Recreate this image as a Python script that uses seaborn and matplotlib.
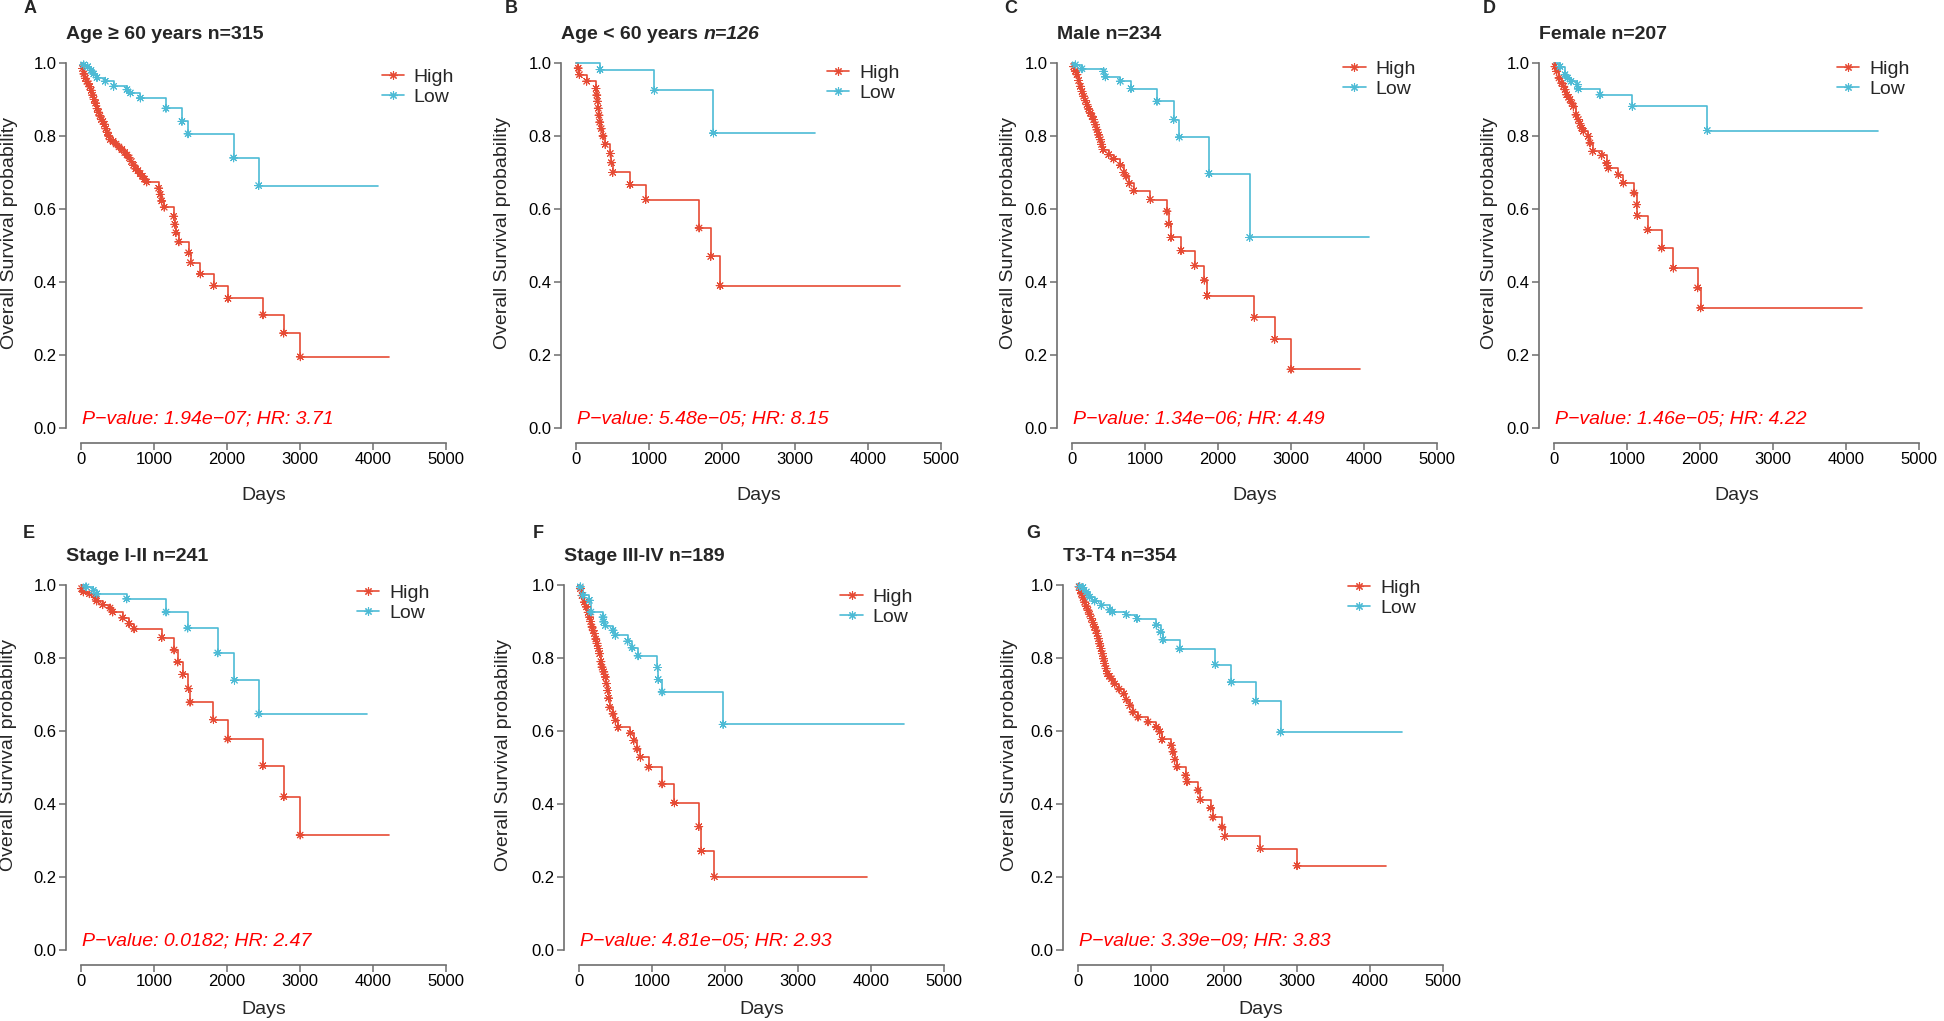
import pandas as pd
import matplotlib
matplotlib.use('Agg')
import matplotlib.pyplot as plt
from matplotlib.lines import Line2D
import seaborn as sns

# --- data: KM step points (days, survival after the step) and last follow-up day ---
a_high_t = [20, 40, 60, 80, 100, 120, 140, 160, 180, 200, 220, 240, 260, 280, 300, 320, 340, 360, 380, 400,
            440, 480, 520, 560, 600, 630, 660, 690, 720, 750, 780, 810, 840, 870, 900,
            1064, 1085, 1105, 1140, 1270, 1285, 1300, 1340, 1475, 1500, 1635, 1817, 2014, 2493, 2776, 3004]
a_high_s = [0.985, 0.97, 0.958, 0.95, 0.943, 0.935, 0.925, 0.912, 0.9, 0.89, 0.875, 0.865, 0.855, 0.845, 0.84,
            0.832, 0.82, 0.81, 0.8, 0.79, 0.785, 0.778, 0.77, 0.763, 0.755, 0.748, 0.74, 0.73, 0.72, 0.71,
            0.705, 0.697, 0.69, 0.682, 0.674, 0.657, 0.64, 0.622, 0.605, 0.58, 0.558, 0.535, 0.51, 0.48,
            0.453, 0.422, 0.39, 0.355, 0.31, 0.26, 0.195]
a_high_end = 4214
a_low_t = [37, 91, 137, 174, 219, 333, 447, 630, 676, 813, 1164, 1383, 1466, 2091, 2434]
a_low_s = [0.995, 0.99, 0.98, 0.97, 0.96, 0.95, 0.936, 0.927, 0.918, 0.904, 0.876, 0.84, 0.806, 0.74, 0.664]
a_low_end = 4064

b_high_t = [30, 46, 146, 274, 285, 295, 305, 315, 325, 345, 370, 400, 470, 485, 503, 740, 955, 1686, 1846, 1974]
b_high_s = [0.986, 0.968, 0.95, 0.93, 0.912, 0.895, 0.876, 0.857, 0.838, 0.82, 0.8, 0.777, 0.752, 0.727, 0.7,
            0.667, 0.626, 0.548, 0.47, 0.39]
b_high_end = 4442
b_low_t = [329, 1074, 1883]
b_low_s = [0.982, 0.925, 0.808]
b_low_end = 3277

c_high_t = [23, 45, 68, 91, 114, 137, 160, 183, 205, 228, 251, 274, 297, 320, 342, 365, 388, 405, 425, 502,
            571, 662, 708, 740, 785, 845, 1073, 1301, 1324, 1356, 1493, 1680, 1813, 1849, 2498, 2776, 3000]
c_high_s = [0.99, 0.978, 0.968, 0.952, 0.936, 0.922, 0.909, 0.897, 0.886, 0.874, 0.863, 0.854, 0.845, 0.831,
            0.817, 0.803, 0.79, 0.777, 0.763, 0.749, 0.737, 0.72, 0.7, 0.69, 0.67, 0.65, 0.626, 0.594, 0.559,
            0.522, 0.486, 0.445, 0.405, 0.363, 0.303, 0.243, 0.161]
c_high_end = 3950
c_low_t = [46, 137, 434, 457, 662, 808, 1164, 1393, 1470, 1877, 2434]
c_low_s = [0.995, 0.984, 0.977, 0.962, 0.95, 0.93, 0.895, 0.845, 0.797, 0.697, 0.522]
c_low_end = 4064

d_high_t = [14, 37, 68, 105, 130, 151, 174, 200, 219, 245, 265, 301, 333, 355, 379, 402, 470, 493, 530, 653,
            721, 744, 881, 950, 1096, 1132, 1141, 1283, 1475, 1635, 1968, 2009]
d_high_s = [0.99, 0.977, 0.959, 0.945, 0.936, 0.927, 0.913, 0.906, 0.9, 0.89, 0.881, 0.858, 0.845, 0.834,
            0.822, 0.813, 0.799, 0.781, 0.758, 0.747, 0.726, 0.712, 0.694, 0.671, 0.644, 0.612, 0.582, 0.543,
            0.493, 0.438, 0.384, 0.329]
d_high_end = 4214
d_low_t = [82, 151, 187, 233, 320, 333, 630, 1073, 2100]
d_low_s = [0.99, 0.968, 0.959, 0.95, 0.941, 0.929, 0.913, 0.881, 0.815]
d_low_end = 4434

e_high_t = [9, 32, 114, 192, 215, 297, 398, 434, 571, 658, 727, 1106, 1275, 1325, 1394, 1472, 1494, 1814,
            2011, 2491, 2779, 3002]
e_high_s = [0.99, 0.981, 0.976, 0.967, 0.956, 0.946, 0.937, 0.926, 0.91, 0.894, 0.88, 0.856, 0.822, 0.789,
            0.755, 0.716, 0.679, 0.631, 0.578, 0.505, 0.42, 0.315]
e_high_end = 4213
e_low_t = [69, 169, 215, 626, 1165, 1462, 1874, 2102, 2436]
e_low_s = [0.995, 0.985, 0.976, 0.962, 0.926, 0.882, 0.814, 0.739, 0.647]
e_low_end = 3916

f_high_t = [18, 41, 73, 101, 125, 146, 160, 178, 195, 210, 230, 247, 265, 283, 300, 315, 340, 361, 375, 393,
            405, 420, 466, 498, 535, 704, 750, 795, 841, 955, 1138, 1307, 1641, 1677, 1855]
f_high_s = [0.99, 0.971, 0.953, 0.94, 0.925, 0.912, 0.9, 0.885, 0.875, 0.867, 0.852, 0.84, 0.826, 0.812, 0.79,
            0.775, 0.762, 0.748, 0.73, 0.711, 0.69, 0.665, 0.647, 0.629, 0.61, 0.594, 0.574, 0.551, 0.528,
            0.501, 0.455, 0.403, 0.338, 0.271, 0.201]
f_high_end = 3948
f_low_t = [18, 55, 142, 164, 329, 338, 361, 466, 498, 667, 727, 809, 1075, 1085, 1138, 1974]
f_low_s = [0.995, 0.972, 0.958, 0.926, 0.912, 0.899, 0.889, 0.876, 0.862, 0.846, 0.828, 0.806, 0.774, 0.741,
           0.707, 0.618]
f_low_end = 4451

g_high_t = [14, 30, 46, 68, 91, 114, 137, 160, 183, 205, 228, 245, 260, 280, 297, 315, 333, 350, 365, 385, 402,
            430, 457, 502, 562, 626, 662, 708, 753, 822, 959, 1073, 1119, 1151, 1278, 1301, 1324, 1356, 1475,
            1493, 1644, 1676, 1817, 1849, 1973, 2009, 2498, 3000]
g_high_s = [0.995, 0.985, 0.976, 0.965, 0.953, 0.942, 0.931, 0.92, 0.908, 0.897, 0.885, 0.876, 0.867, 0.853,
            0.839, 0.826, 0.812, 0.798, 0.785, 0.771, 0.757, 0.75, 0.743, 0.729, 0.715, 0.702, 0.686, 0.67,
            0.652, 0.638, 0.625, 0.611, 0.598, 0.577, 0.561, 0.543, 0.522, 0.502, 0.479, 0.461, 0.438, 0.412,
            0.389, 0.364, 0.337, 0.311, 0.278, 0.231]
g_high_end = 4214
g_low_t = [23, 68, 114, 160, 228, 320, 434, 470, 662, 808, 1073, 1132, 1164, 1393, 1881, 2100, 2434, 2776]
g_low_s = [0.996, 0.993, 0.981, 0.967, 0.956, 0.944, 0.932, 0.926, 0.919, 0.908, 0.89, 0.871, 0.85, 0.825,
           0.782, 0.734, 0.682, 0.597]
g_low_end = 4443

letters = ['A', 'B', 'C', 'D', 'E', 'F', 'G']
titles = ['Age \u2265 60 years n=315', 'Age < 60 years', 'Male n=234', 'Female n=207',
          'Stage I-II n=241', 'Stage III-IV n=189', 'T3-T4 n=354']
stats = ['P\u2212value: 1.94e\u221207; HR: 3.71', 'P\u2212value: 5.48e\u221205; HR: 8.15',
         'P\u2212value: 1.34e\u221206; HR: 4.49', 'P\u2212value: 1.46e\u221205; HR: 4.22',
         'P\u2212value: 0.0182; HR: 2.47', 'P\u2212value: 4.81e\u221205; HR: 2.93',
         'P\u2212value: 3.39e\u221209; HR: 3.83']
groups = ['High', 'Low']
pal = {'High': '#E64B35', 'Low': '#4DBBD5'}

curves = [
    ((a_high_t, a_high_s, a_high_end), (a_low_t, a_low_s, a_low_end)),
    ((b_high_t, b_high_s, b_high_end), (b_low_t, b_low_s, b_low_end)),
    ((c_high_t, c_high_s, c_high_end), (c_low_t, c_low_s, c_low_end)),
    ((d_high_t, d_high_s, d_high_end), (d_low_t, d_low_s, d_low_end)),
    ((e_high_t, e_high_s, e_high_end), (e_low_t, e_low_s, e_low_end)),
    ((f_high_t, f_high_s, f_high_end), (f_low_t, f_low_s, f_low_end)),
    ((g_high_t, g_high_s, g_high_end), (g_low_t, g_low_s, g_low_end)),
]

# --- layout (pixels of the 1944x1021 figure) ---
W, H = 1944, 1021
box = 394.2
ax_left = [66.4, 561.4, 1057.4, 1539.4, 66.4, 564.4, 1063.4]
ax_top = [48.4] * 4 + [570.4] * 3
leg_x = [0.80, 0.674, 0.725, 0.755, 0.737, 0.70, 0.722]
leg_y = [0.95, 0.96, 0.97, 0.97, 0.965, 0.955, 0.978]
ylab_x = [-0.123, -0.128, -0.102, -0.105, -0.125, -0.133, -0.115]
letter_xy = [(24, 0), (505, 0), (1004, 0), (1483, 0), (23, 525), (533, 525), (1026, 525)]

sns.set_style('ticks')
plt.rcParams['font.family'] = ['Liberation Sans', 'DejaVu Sans']
plt.rcParams['axes.unicode_minus'] = True

fig = plt.figure(figsize=(W / 100, H / 100), dpi=100)
grey = '#6e6e6e'

for i in range(7):
    ax = fig.add_axes([ax_left[i] / W, 1 - (ax_top[i] + box) / H, box / W, box / H])
    lines, marks = [], []
    for g, (t, s, end) in zip(groups, curves[i]):
        lines.append(pd.DataFrame({'days': [0] + t + [end], 'surv': [1.0] + s + [s[-1]], 'group': g}))
        marks.append(pd.DataFrame({'days': t, 'surv': s, 'group': g}))
    df_line = pd.concat(lines, ignore_index=True)
    df_mark = pd.concat(marks, ignore_index=True)

    sns.lineplot(data=df_line, x='days', y='surv', hue='group', palette=pal, drawstyle='steps-post',
                 estimator=None, linewidth=1.2, legend=False, ax=ax)
    sns.scatterplot(data=df_mark, x='days', y='surv', hue='group', palette=pal, marker=(8, 2, 0),
                    s=32, linewidth=0.7, legend=False, ax=ax, zorder=3)

    ax.set_xlim(-200, 5200)
    ax.set_ylim(-0.04, 1.04)
    ax.set_xticks([0, 1000, 2000, 3000, 4000, 5000])
    ax.set_yticks([0.0, 0.2, 0.4, 0.6, 0.8, 1.0])
    ax.set_yticklabels(['0.0', '0.2', '0.4', '0.6', '0.8', '1.0'])
    for side in ['top', 'right']:
        ax.spines[side].set_visible(False)
    ax.spines['left'].set_bounds(0, 1)
    ax.spines['bottom'].set_bounds(0, 5000)
    for side in ['left', 'bottom']:
        ax.spines[side].set_color(grey)
        ax.spines[side].set_linewidth(1.2)
    ax.tick_params(length=5, width=1.1, color=grey, labelsize=12, pad=2, labelcolor='black')

    ax.set_xlabel('Days', fontsize=14)
    ax.set_ylabel('Overall Survival probability', fontsize=14)
    ax.xaxis.set_label_coords(0.5, -0.113 if i < 4 else -0.092)
    ax.yaxis.set_label_coords(ylab_x[i], 0.532)

    t1 = ax.text(0, 1 + 9 / box, titles[i], transform=ax.transAxes, ha='left', va='baseline',
                 fontsize=14, fontweight='bold')
    if i == 1:
        ax.annotate('n=126', xy=(1, 0), xycoords=t1, xytext=(4, 0), textcoords='offset points',
                    ha='left', va='bottom', fontsize=14, fontweight='bold', fontstyle='italic')

    ax.text(20, 0.012, stats[i], color='#FF0000', fontsize=14, fontstyle='italic', ha='left', va='baseline')

    handles = [Line2D([], [], color=pal[g], lw=1.2, marker=(8, 2, 0), markersize=6, markeredgewidth=0.8)
               for g in groups]
    ax.legend(handles, groups, loc='upper left', bbox_to_anchor=(leg_x[i], leg_y[i]), frameon=False,
              fontsize=14, handlelength=1.15, handletextpad=0.5, labelspacing=0.12, borderpad=0,
              borderaxespad=0)

    lx, ly = letter_xy[i]
    fig.text(lx / W, 1 - ly / H, letters[i], fontsize=13, fontweight='bold', ha='left', va='top')

fig.savefig('out.png', dpi=100)
